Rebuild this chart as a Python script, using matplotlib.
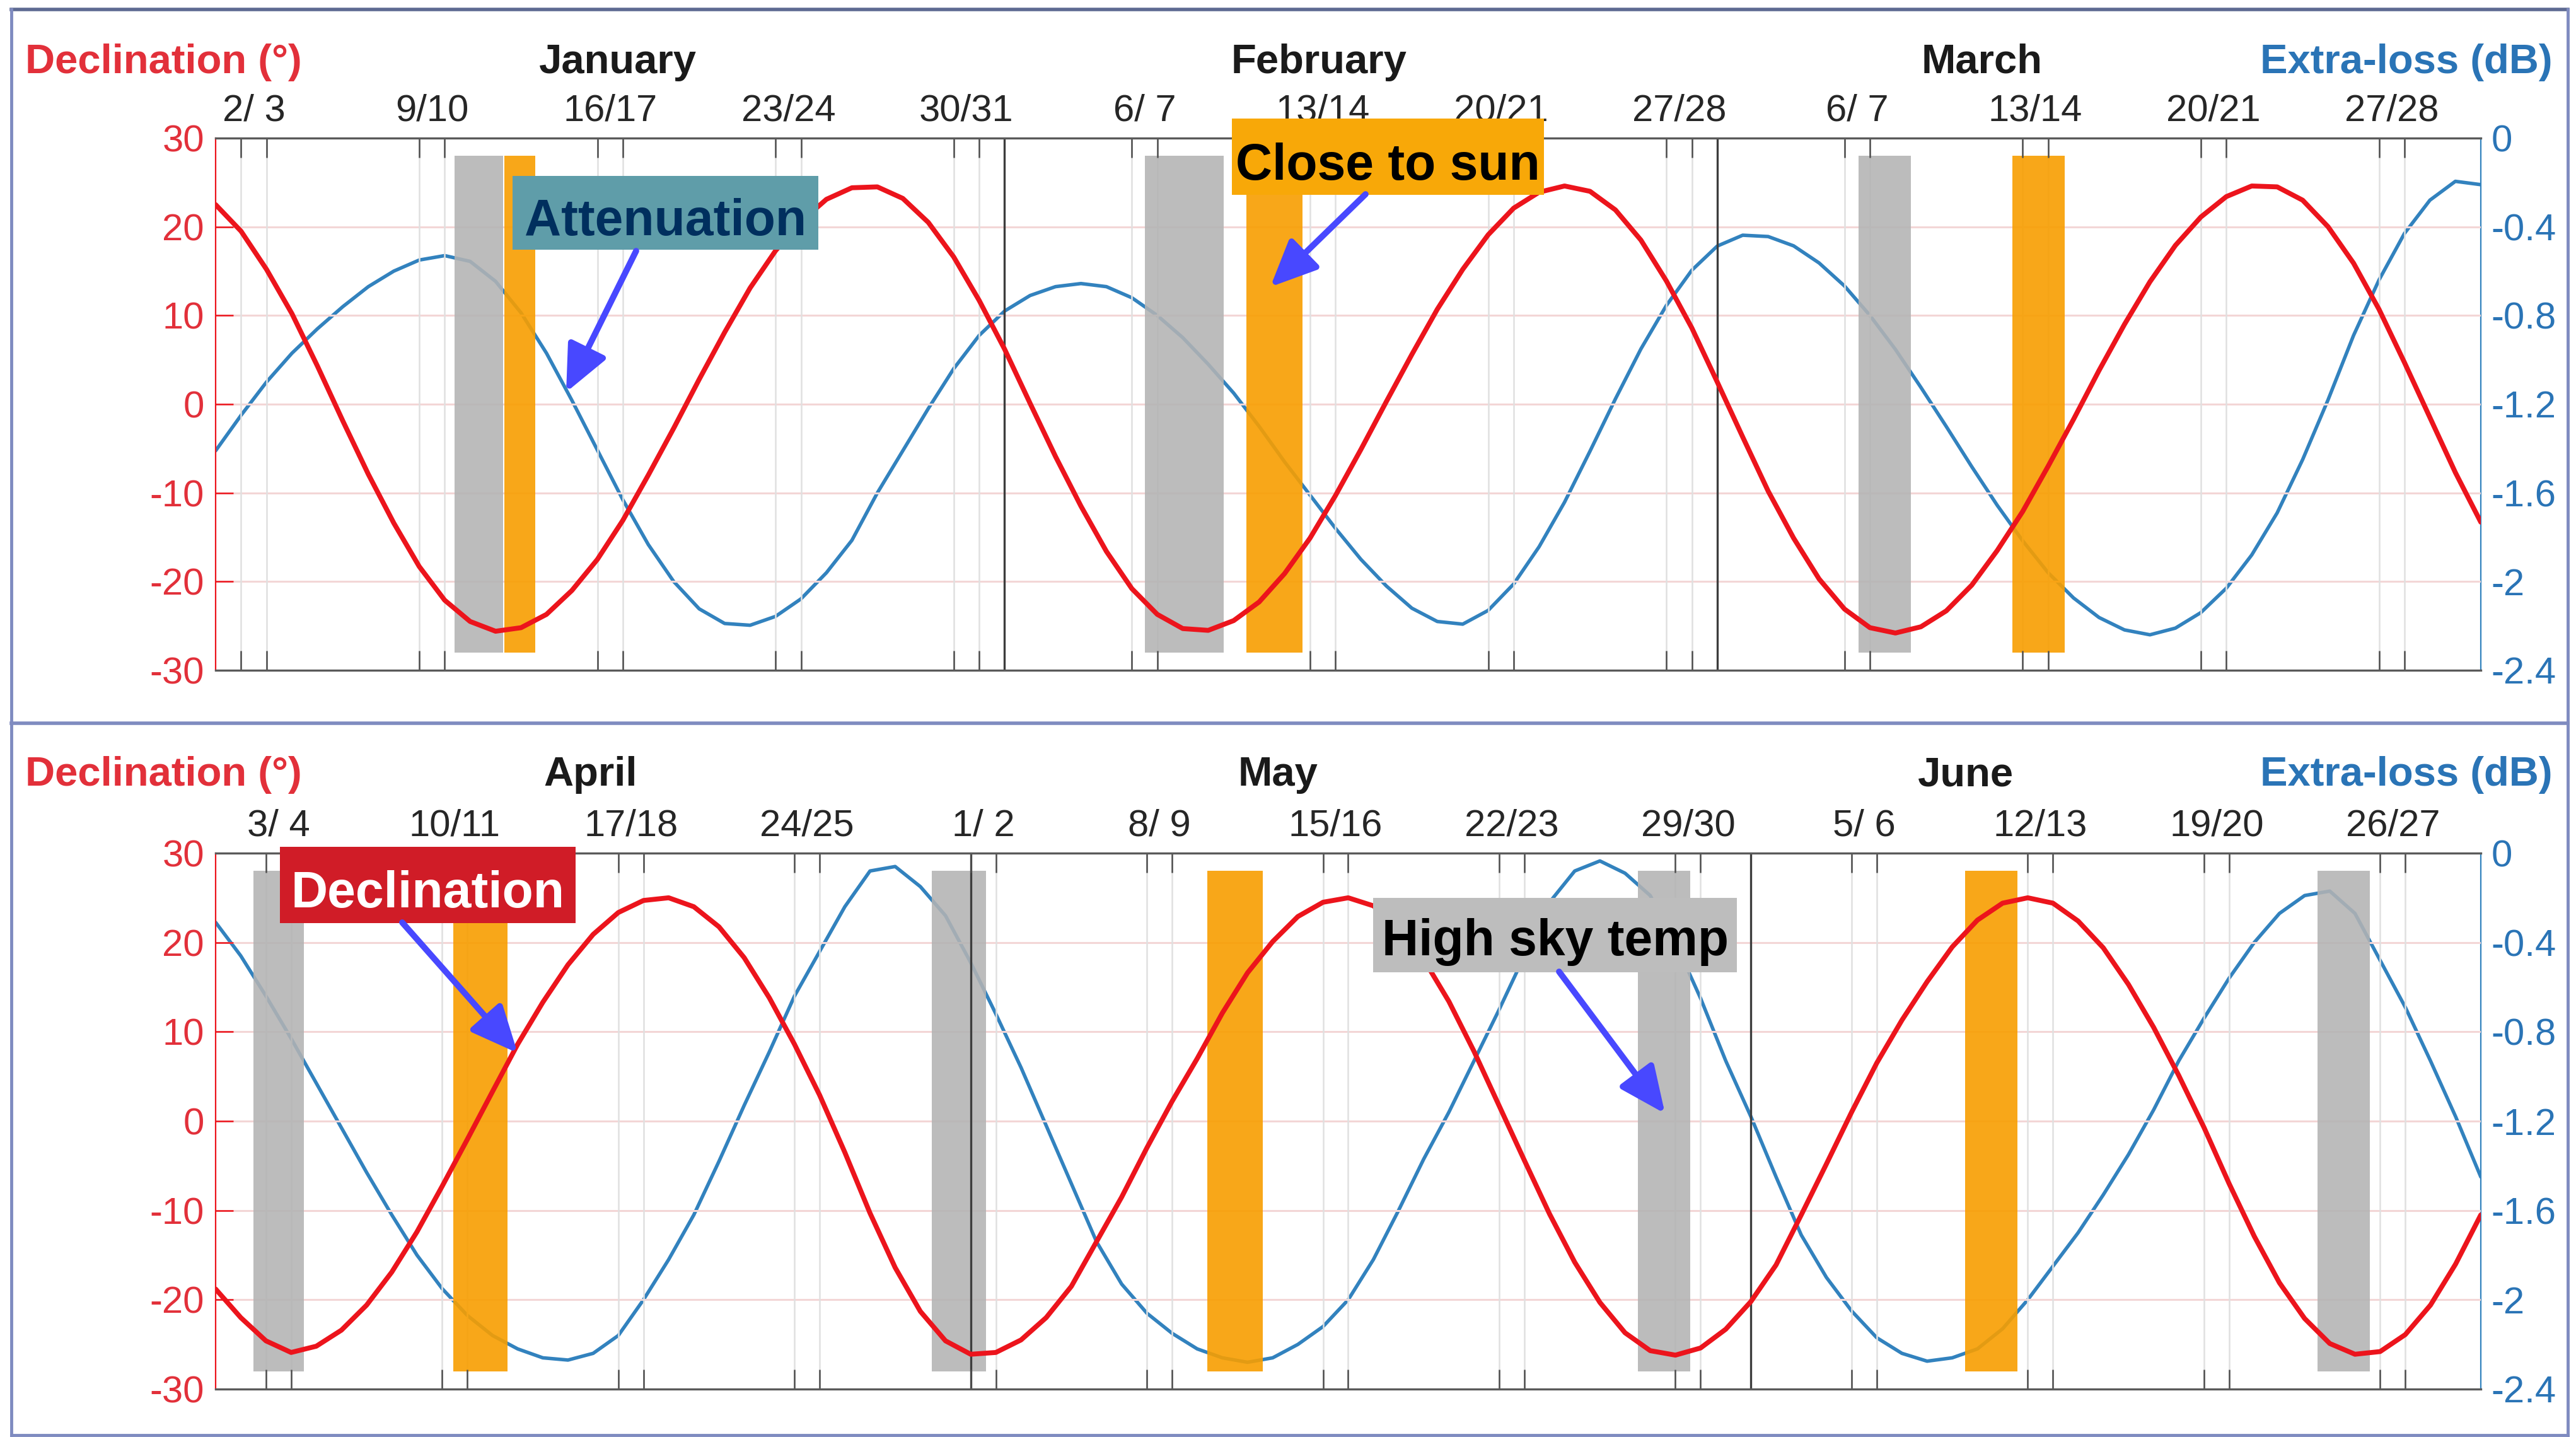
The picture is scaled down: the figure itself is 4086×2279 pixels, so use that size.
import matplotlib
matplotlib.use("Agg")
import matplotlib.pyplot as plt
from matplotlib.patches import Rectangle, FancyArrowPatch
from matplotlib.lines import Line2D

W, H = 4087, 2279

plt.rcParams["font.family"] = ["Liberation Sans", "DejaVu Sans"]
plt.rcParams["axes.unicode_minus"] = False

RED = "#EC141C"
BLUE = "#3282BE"
RED_TXT = "#E2303A"
BLUE_TXT = "#2A74B6"
GRAY_BAR = "#B3B3B3"
ORANGE_BAR = "#F89E00"

# ---------------- January - March (day 1 = 1 Jan) ----------------
jfm_days = list(range(1, 91))
jfm_decl = [22.5, 19.5, 15.2, 10.2, 4.3, -1.9, -7.9, -13.4, -18.3, -22.1, -24.5, -25.6,
            -25.2, -23.7, -21.0, -17.5, -13.1, -8.0, -2.7, 2.8, 8.1, 13.1, 17.3, 20.6, 23.1, 24.4,
            24.5, 23.2, 20.5, 16.6, 11.7, 6.2, 0.1, -5.9, -11.5, -16.6, -20.8, -23.7, -25.3,
            -25.5, -24.4, -22.3, -19.1, -15.1, -10.3, -5.1, 0.3, 5.6, 10.7, 15.2, 19.1, 22.1, 23.9, 24.6,
            24.0, 21.9, 18.5, 13.9, 8.6, 2.5, -3.7, -9.8, -15.1, -19.7, -23.1, -25.2, -25.8,
            -25.1, -23.3, -20.4, -16.5, -12.1, -7.0, -1.7, 3.8, 9.0, 13.8, 17.9, 21.1, 23.4, 24.6,
            24.5, 23.0, 20.0, 15.9, 10.7, 4.7, -1.5, -7.7, -13.3]
jfm_loss = [-1.41, -1.25, -1.10, -0.97, -0.86, -0.76, -0.67, -0.60, -0.55, -0.53,
            -0.556, -0.646, -0.788, -0.97, -1.183, -1.407, -1.631, -1.833, -2.0, -2.123, -2.189,
            -2.197, -2.157, -2.078, -1.96, -1.814, -1.60, -1.41, -1.22, -1.04, -0.89, -0.78, -0.71, -0.67,
            -0.656, -0.67, -0.72, -0.80, -0.90, -1.02, -1.15, -1.30, -1.46, -1.61, -1.76, -1.90, -2.02, -2.12, -2.18,
            -2.192, -2.13, -2.011, -1.843, -1.642, -1.412, -1.176, -0.951, -0.755, -0.596, -0.487, -0.438,
            -0.444, -0.486, -0.563, -0.667, -0.80, -0.953, -1.124, -1.301, -1.482, -1.656, -1.816, -1.96,
            -2.074, -2.162, -2.218, -2.24,
            -2.21, -2.14, -2.03, -1.88, -1.69, -1.45, -1.18, -0.89, -0.64, -0.43, -0.28, -0.195, -0.21]
jfm_pairs = [2, 9, 16, 23, 30, 37, 44, 51, 58, 65, 72, 79, 86]
jfm_pair_labels = ["2/ 3", "9/10", "16/17", "23/24", "30/31", "6/ 7", "13/14", "20/21",
                   "27/28", "6/ 7", "13/14", "20/21", "27/28"]
jfm_month_starts = [32, 60]
jfm_gray = [(10.4, 12.3), (37.5, 40.6), (65.55, 67.6)]
jfm_orange = [(12.35, 13.55), (41.5, 43.7), (71.6, 73.65)]
jfm_months = ["January", "February", "March"]

# ---------------- April - June (day 1 = 1 Apr) ----------------
amj_days = list(range(1, 92))
amj_decl = [-18.8, -22.0, -24.6, -25.9, -25.2, -23.4, -20.6, -16.9, -12.4, -7.3, -2.05, 3.3,
            8.6, 13.3, 17.5, 20.9, 23.35, 24.7,
            25.0, 24.0, 21.75, 18.3, 13.8, 8.6, 2.9, -3.5, -10.3, -16.4, -21.3, -24.6, -26.1,
            -25.9, -24.5, -22.0, -18.5, -13.5, -8.5, -3.0, 2.2, 7.0, 12.1, 16.6, 20.1, 22.9, 24.5,
            25.0, 24.1, 21.75, 18.1, 13.4, 7.8, 1.7, -4.4, -10.4, -15.8, -20.3, -23.7, -25.7,
            -26.2, -25.4, -23.3, -20.2, -16.1, -10.5, -4.8, 1.0, 6.5, 11.3, 15.6, 19.5, 22.5, 24.4,
            25.0, 24.4, 22.4, 19.4, 15.3, 10.5, 5.1, -0.7, -7.0, -12.9, -18.1, -22.1, -24.9, -26.1,
            -25.8, -23.9, -20.6, -16.0, -10.5]
amj_loss = [-0.31, -0.46, -0.64, -0.83, -1.03, -1.23, -1.43, -1.62, -1.80, -1.95, -2.07, -2.16,
            -2.22, -2.26, -2.27,
            -2.24, -2.16, -2.0, -1.82, -1.62, -1.38, -1.13, -0.89, -0.64, -0.44, -0.24,
            -0.08, -0.06, -0.15, -0.28, -0.49, -0.72, -0.96, -1.22, -1.48, -1.74, -1.93, -2.06,
            -2.15, -2.22, -2.26, -2.28,
            -2.26, -2.20, -2.12, -2.00, -1.82, -1.60, -1.37, -1.16, -0.93, -0.70, -0.46, -0.22,
            -0.08, -0.035,
            -0.09, -0.19, -0.40, -0.65, -0.93, -1.18, -1.45, -1.71, -1.90, -2.05, -2.17, -2.24, -2.275,
            -2.26, -2.22, -2.13, -2.00, -1.85, -1.70, -1.53, -1.35, -1.15, -0.93, -0.74, -0.56,
            -0.40, -0.27, -0.19, -0.17,
            -0.27, -0.48, -0.69, -0.93, -1.18, -1.45]
amj_pairs = [3, 10, 17, 24, 31, 38, 45, 52, 59, 66, 73, 80, 87]
amj_pair_labels = ["3/ 4", "10/11", "17/18", "24/25", "1/ 2", "8/ 9", "15/16", "22/23",
                   "29/30", "5/ 6", "12/13", "19/20", "26/27"]
amj_month_starts = [31, 62]
amj_gray = [(2.5, 4.5), (29.45, 31.6), (57.5, 59.6), (84.5, 86.6)]
amj_orange = [(10.45, 12.6), (40.4, 42.6), (70.5, 72.6)]
amj_months = ["April", "May", "June"]

decl_ticks = [-30, -20, -10, 0, 10, 20, 30]
loss_ticks = [-2.4, -2.0, -1.6, -1.2, -0.8, -0.4, 0.0]
loss_labels = ["-2.4", "-2", "-1.6", "-1.2", "-0.8", "-0.4", "0"]


def fx(x):
    return x / W


def fy(y):
    return 1 - y / H


fig = plt.figure(figsize=(W / 100, H / 100), dpi=100, facecolor="white")


def draw_panel(top, bottom, days, decl, loss, pairs, pair_labels, month_starts,
               gray, orange):
    ax = fig.add_axes([fx(342), fy(bottom), (3935 - 342) / W, (bottom - top) / H])
    ax2 = ax.twinx()
    # red axis (with the bands) sits in front of the blue one
    ax.set_zorder(2)
    ax2.set_zorder(1)
    ax.patch.set_visible(False)

    ax.set_xlim(days[0], days[-1])
    ax.set_ylim(-30, 30)
    ax2.set_ylim(-2.4, 0)

    tick_days = [d for p in pairs for d in (p, p + 1)]
    ax.set_xticks(tick_days)
    ax.set_xticks([p + 0.5 for p in pairs], labels=pair_labels, minor=True)
    ax.tick_params(axis="x", which="major", direction="in", top=True, bottom=True,
                   length=22, width=1.8, color="#4d4d4d",
                   labelbottom=False, labeltop=False)
    ax.tick_params(axis="x", which="minor", top=True, bottom=False, length=0,
                   labeltop=True, labelbottom=False, pad=11, labelsize=43,
                   labelcolor="#262626")

    ax.set_yticks(decl_ticks, labels=[str(v) for v in decl_ticks])
    ax.tick_params(axis="y", direction="in", length=20, width=1.8, color=RED,
                   labelcolor=RED_TXT, labelsize=43, pad=13)
    ax2.set_yticks(loss_ticks, labels=loss_labels)
    ax2.tick_params(axis="y", direction="in", length=20, width=1.8, color=BLUE,
                    labelcolor=BLUE_TXT, labelsize=43, pad=12)

    for side in ("top", "bottom"):
        ax.spines[side].set_color("#5a5a5a")
        ax.spines[side].set_linewidth(2.4)
    ax.spines["left"].set_color(RED)
    ax.spines["left"].set_linewidth(1.6)
    ax.spines["right"].set_visible(False)
    for side in ("top", "bottom", "left"):
        ax2.spines[side].set_visible(False)
    ax2.spines["right"].set_color(BLUE)
    ax2.spines["right"].set_linewidth(1.6)

    # light grid
    for v in decl_ticks[1:-1]:
        ax.axhline(v, color="#F3D6D6", lw=2.2, zorder=0.5)
    for d in tick_days:
        ax.axvline(d, color="#E0E0E0", lw=1.8, zorder=0.5)

    for s, e in gray:
        ax.bar(s, 56, width=e - s, bottom=-28, align="edge", color=GRAY_BAR,
               alpha=0.88, linewidth=0, zorder=1)
    for s, e in orange:
        ax.bar(s, 56, width=e - s, bottom=-28, align="edge", color=ORANGE_BAR,
               alpha=0.9, linewidth=0, zorder=1)
    for m in month_starts:
        ax.axvline(m, color="#3d3d3d", lw=2.4, zorder=1.5)

    ax2.plot(days, loss, color=BLUE, lw=4.0, solid_joinstyle="round",
             solid_capstyle="round")
    ax.plot(days, decl, color=RED, lw=5.6, zorder=3, solid_joinstyle="round",
            solid_capstyle="round")
    return ax, ax2


draw_panel(219, 1063, jfm_days, jfm_decl, jfm_loss, jfm_pairs, jfm_pair_labels,
           jfm_month_starts, jfm_gray, jfm_orange)
draw_panel(1353, 2203, amj_days, amj_decl, amj_loss, amj_pairs, amj_pair_labels,
           amj_month_starts, amj_gray, amj_orange)

# panel headers
for base, months, mx in ((116, jfm_months, (980, 2092, 3144)),
                         (1246, amj_months, (937, 2027, 3118))):
    fig.text(fx(40), fy(base), "Declination (°)", color=RED_TXT, fontsize=47,
             fontweight="bold", ha="left", va="baseline")
    fig.text(fx(4049), fy(base), "Extra-loss (dB)", color=BLUE_TXT, fontsize=47,
             fontweight="bold", ha="right", va="baseline")
    for name, x in zip(months, mx):
        fig.text(fx(x), fy(base), name, color="#1a1a1a", fontsize=47,
                 fontweight="bold", ha="center", va="baseline")

# outer frame and separator
frame = "#7F8BC0"
for (x0, y0, x1, y1, c, lw) in ((18, 15, 4073, 15, "#5E6A92", 4),
                                (18, 15, 18, 2276, frame, 3.5),
                                (18, 2276, 4073, 2276, frame, 3.5),
                                (4073, 15, 4073, 2276, frame, 3.5),
                                (18, 1147, 4073, 1147, frame, 4)):
    fig.add_artist(Line2D([fx(x0), fx(x1)], [fy(y0), fy(y1)],
                          transform=fig.transFigure, color=c, lw=lw))

# callout boxes with arrows
callouts = [
    # text, box (x0, y0, x1, y1), baseline, face, text colour, arrow tail, arrow tip
    ("Attenuation", (813, 279, 1298, 396), 373, "#5F9DA9", "#002F5E", (1009, 398), (898, 622)),
    ("Close to sun", (1954, 188, 2449, 309), 285, "#F8A808", "black", (2166, 308), (2015, 455)),
    ("Declination", (444, 1343, 913, 1464), 1439, "#D01C27", "white", (638, 1463), (821, 1670)),
    ("High sky temp", (2178, 1424, 2755, 1542), 1515, "#BDBDBD", "black", (2473, 1541), (2641, 1766)),
]
for text, (x0, y0, x1, y1), base, face, tc, tail, tip in callouts:
    fig.add_artist(Rectangle((fx(x0), fy(y1)), (x1 - x0) / W, (y1 - y0) / H,
                             transform=fig.transFigure, facecolor=face,
                             edgecolor="none", zorder=10))
    fig.text(fx((x0 + x1) / 2), fy(base), text, color=tc, fontsize=58,
             fontweight="bold", ha="center", va="baseline", zorder=11)
    fig.add_artist(FancyArrowPatch((fx(tail[0]), fy(tail[1])), (fx(tip[0]), fy(tip[1])),
                                   transform=fig.transFigure,
                                   arrowstyle="-|>,head_length=1.0,head_width=0.45",
                                   mutation_scale=45, lw=7, color="#4848FF",
                                   shrinkA=0, shrinkB=0, zorder=12))

fig.savefig("out.png", dpi=100, facecolor="white")
